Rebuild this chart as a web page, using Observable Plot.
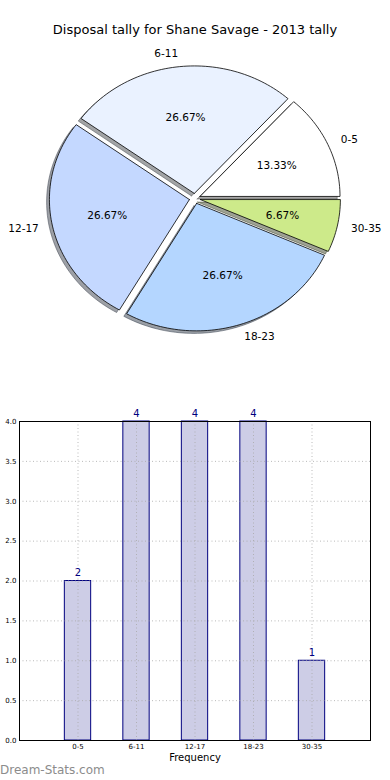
<!DOCTYPE html>
<html><head><meta charset="utf-8">
<script src="https://cdn.jsdelivr.net/npm/d3@7"></script>
<script src="https://cdn.jsdelivr.net/npm/@observablehq/plot@0.6"></script>
<style>
body{margin:0;background:#fff;font-family:"DejaVu Sans",sans-serif}
#wrap{position:relative;width:390px;height:780px;overflow:hidden;background:#fff}
#title{position:absolute;top:22px;left:0;width:390px;text-align:center;font-size:13px;line-height:16px;color:#000}
#pie{position:absolute;top:0;left:0}
#bar{position:absolute;top:400px;left:0}
#wm{position:absolute;left:0;top:762px;font-size:12px;line-height:16px;color:#8c8c8c}
</style></head><body>
<div id="wrap">
  <div id="pie"></div>
  <div id="title">Disposal tally for Shane Savage - 2013 tally</div>
  <div id="bar"></div>
  <div id="wm">Dream-Stats.com</div>
</div>
<script>
const title = "Disposal tally for Shane Savage - 2013 tally";
const categories = ["0-5", "6-11", "12-17", "18-23", "30-35"];
const counts = [2, 4, 4, 4, 1];
const sliceColors = ["#ffffff", "#eaf2ff", "#c4d8ff", "#b4d6ff", "#cdea8a"];
const yTicks = [0, 0.5, 1, 1.5, 2, 2.5, 3, 3.5, 4];
const xLabel = "Frequency";

// ---------- pie ----------
const total = d3.sum(counts);
const explode = 0.04, shadowOff = -0.02, labelDist = 1.1, pctDist = 0.6;
let acc = 0;
const slices = categories.map((c, i) => {
  const a0 = acc / total * 360; acc += counts[i];
  const a1 = acc / total * 360;
  const mid = (a0 + a1) / 2 * Math.PI / 180;
  const ox = explode * Math.cos(mid), oy = explode * Math.sin(mid);
  return {c, i, a0, a1, mid, ox, oy, color: sliceColors[i], pct: (counts[i] / total * 100).toFixed(2) + "%"};
});
function slicePts(s, dx, dy, key) {
  const pts = [{x: s.ox + dx, y: s.oy + dy, k: key}];
  const n = Math.max(2, Math.ceil((s.a1 - s.a0) / 1.5));
  for (let j = 0; j <= n; j++) {
    const t = (s.a0 + (s.a1 - s.a0) * j / n) * Math.PI / 180;
    pts.push({x: s.ox + dx + Math.cos(t), y: s.oy + dy + Math.sin(t), k: key});
  }
  pts.push({x: s.ox + dx, y: s.oy + dy, k: key});
  return pts;
}
const shadowPts = slices.flatMap(s => slicePts(s, shadowOff, shadowOff, s.c));
const wedgePts = slices.flatMap(s => slicePts(s, 0, 0, s.c));
const shadowColor = s => {
  const c = d3.rgb(s.color);
  return d3.rgb(c.r * 0.3, c.g * 0.3, c.b * 0.3).formatHex();
};
const colorByKey = Object.fromEntries(slices.map(s => [s.c, s.color]));
const shadowByKey = Object.fromEntries(slices.map(s => [s.c, shadowColor(s)]));
const labels = slices.map(s => ({
  text: s.c,
  x: s.ox + labelDist * Math.cos(s.mid),
  y: s.oy + labelDist * Math.sin(s.mid),
  right: Math.cos(s.mid) < 0
}));
const pcts = slices.map(s => ({
  text: s.pct,
  x: s.ox + pctDist * Math.cos(s.mid),
  y: s.oy + pctDist * Math.sin(s.mid)
}));

const Cx = 194.4, Cy = 198, Rx = 140, Ry = 127.5, PW = 390, PH = 390;
const pie = Plot.plot({
  width: PW, height: PH, margin: 0,
  style: {fontFamily: "DejaVu Sans", background: "transparent"},
  x: {domain: [-Cx / Rx, (PW - Cx) / Rx], range: [0, PW], axis: null},
  y: {domain: [-(PH - Cy) / Ry, Cy / Ry], range: [PH, 0], axis: null},
  marks: [
    Plot.line(shadowPts, {x: "x", y: "y", z: "k", fill: d => shadowByKey[d.k], fillOpacity: 0.5, stroke: d => shadowByKey[d.k], strokeOpacity: 0.5, strokeWidth: 1}),
    Plot.line(wedgePts, {x: "x", y: "y", z: "k", fill: d => colorByKey[d.k], stroke: "#000", strokeWidth: 0.8, strokeLinejoin: "miter"}),
    Plot.text(labels.filter(d => !d.right), {x: "x", y: "y", text: "text", textAnchor: "start", fontSize: 10.5, fill: "#000"}),
    Plot.text(labels.filter(d => d.right), {x: "x", y: "y", text: "text", textAnchor: "end", fontSize: 10.5, fill: "#000"}),
    Plot.text(pcts, {x: "x", y: "y", text: "text", fontSize: 10.5, fill: "#000"})
  ]
});
document.getElementById("pie").append(pie);

// ---------- bars ----------
const bars = categories.map((c, i) => ({c, pos: i + 1, n: counts[i]}));
const halfW = 0.225;
const bar = Plot.plot({
  width: 390, height: 380,
  marginLeft: 19, marginRight: 20, marginTop: 21, marginBottom: 40,
  style: {fontFamily: "DejaVu Sans", background: "transparent", color: "#000"},
  x: {domain: [0, categories.length + 1], axis: null},
  y: {domain: [0, 4], axis: null},
  marks: [
    Plot.rectY(bars, {x1: d => d.pos - halfW, x2: d => d.pos + halfW, y1: 0, y2: "n", fill: "#cdcde6", stroke: "#00007f", strokeWidth: 1, inset: 0}),
    Plot.gridY({ticks: yTicks, stroke: "#a8a8a8", strokeOpacity: 1, strokeWidth: 0.8, strokeDasharray: "1,2.5"}),
    Plot.gridX({ticks: bars.map(d => d.pos), stroke: "#a8a8a8", strokeOpacity: 1, strokeWidth: 0.8, strokeDasharray: "1,2.5"}),
    Plot.axisY({ticks: yTicks, tickFormat: d3.format(".1f"), tickSize: 0, tickPadding: 3, fontSize: 7, label: null}),
    Plot.axisX({ticks: bars.map(d => d.pos), tickFormat: p => categories[p - 1], tickSize: 0, tickPadding: 4, fontSize: 7, label: null}),
    Plot.frame({stroke: "#000", strokeWidth: 1}),
    Plot.text(bars, {x: "pos", y: "n", text: d => String(d.n), dy: -8, fill: "#00007f", fontSize: 10}),
    Plot.text([xLabel], {frameAnchor: "bottom", text: d => d, dy: 20, fontSize: 10, fill: "#000"})
  ]
});
document.getElementById("bar").append(bar);
</script>
</body></html>
